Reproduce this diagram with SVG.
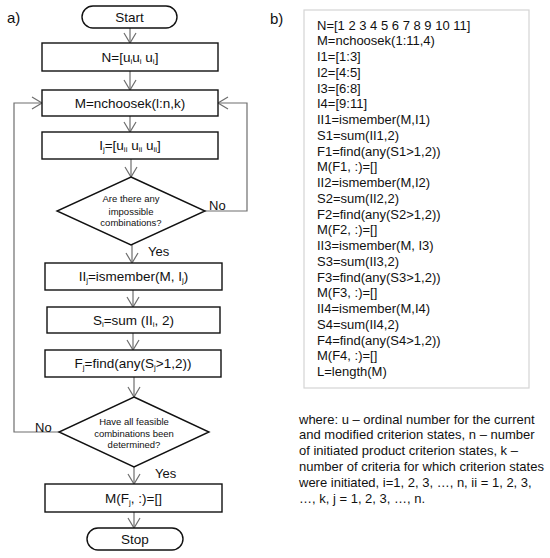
<svg xmlns="http://www.w3.org/2000/svg" width="550" height="558" viewBox="0 0 550 558">
<style>
text{font-family:"Liberation Sans",Arial,sans-serif;fill:#111}
.box{fill:#fff;stroke:#111;stroke-width:1.4}
.t{font-size:13.5px;text-anchor:middle}
.d{font-size:9.5px;text-anchor:middle}
.lbl{font-size:13px}
.code{font-size:13px}
.sub{font-size:8px}
.con{fill:none;stroke:#6e6e6e;stroke-width:1.2}
</style>
<defs>
<marker id="ah" markerUnits="userSpaceOnUse" markerWidth="14" markerHeight="14" viewBox="-12 -7 14 14" refX="0" refY="0" orient="auto">
<path d="M-10,-6 L0,0 L-10,6" fill="none" stroke="#6e6e6e" stroke-width="1.2"/>
</marker>
</defs>
<rect width="550" height="558" fill="#fff"/>
<text x="7" y="23" style="font-size:15px">a)</text>
<text x="270" y="24" style="font-size:15px">b)</text>

<g id="connectors">
<line class="con" x1="130" y1="28" x2="130" y2="43" marker-end="url(#ah)"/>
<line class="con" x1="130" y1="71" x2="130" y2="90" marker-end="url(#ah)"/>
<line class="con" x1="130" y1="116" x2="130" y2="132" marker-end="url(#ah)"/>
<line class="con" x1="131" y1="159" x2="131" y2="177" marker-end="url(#ah)"/>
<line class="con" x1="132" y1="245" x2="132" y2="263" marker-end="url(#ah)"/>
<line class="con" x1="133" y1="290" x2="133" y2="307" marker-end="url(#ah)"/>
<line class="con" x1="133" y1="333" x2="133" y2="350" marker-end="url(#ah)"/>
<line class="con" x1="134" y1="377" x2="134" y2="397" marker-end="url(#ah)"/>
<line class="con" x1="134" y1="467" x2="134" y2="484" marker-end="url(#ah)"/>
<line class="con" x1="134" y1="512" x2="134" y2="528" marker-end="url(#ah)"/>
<polyline class="con" points="205,211 247,211 247,103 218,103" marker-end="url(#ah)"/>
<polyline class="con" points="59,432 14,432 14,103 42,103" marker-end="url(#ah)"/>
<text class="lbl" x="209" y="210">No</text>
<text class="lbl" x="148" y="256">Yes</text>
<text class="lbl" x="35" y="432">No</text>
<text class="lbl" x="155" y="478">Yes</text>
</g>

<g id="start">
<rect class="box" x="82" y="6" width="95" height="22" rx="11"/>
<text class="t" x="129.5" y="21.5">Start</text>
</g>
<g id="n">
<rect class="box" x="42" y="43" width="176" height="28"/>
<text class="t" x="130" y="61.5">N=[u<tspan class="sub" dy="2">i</tspan><tspan dy="-2">u</tspan><tspan class="sub" dy="2">i</tspan><tspan dy="-2"> u</tspan><tspan class="sub" dy="2">i</tspan><tspan dy="-2">]</tspan></text>
</g>
<g id="m">
<rect class="box" x="42" y="90" width="176" height="26"/>
<text class="t" x="130" y="107.5">M=nchoosek(l:n,k)</text>
</g>
<g id="ij">
<rect class="box" x="42" y="132" width="176" height="27"/>
<text class="t" x="130" y="150">I<tspan class="sub" dy="2">j</tspan><tspan dy="-2">=[u</tspan><tspan class="sub" dy="2">ii</tspan><tspan dy="-2"> u</tspan><tspan class="sub" dy="2">ii</tspan><tspan dy="-2">  u</tspan><tspan class="sub" dy="2">ii</tspan><tspan dy="-2">]</tspan></text>
</g>
<g id="dec1">
<polygon class="box" points="131,177 205,211 131,245 57,211"/>
<text class="d" x="131" y="202">Are there any</text>
<text class="d" x="131" y="214.5">impossible</text>
<text class="d" x="131" y="226">combinations?</text>
</g>
<g id="iij">
<rect class="box" x="45" y="263" width="177" height="27"/>
<text class="t" x="133.5" y="281">II<tspan class="sub" dy="2">j</tspan><tspan dy="-2">=ismember(M, I</tspan><tspan class="sub" dy="2">j</tspan><tspan dy="-2">)</tspan></text>
</g>
<g id="sj">
<rect class="box" x="47" y="307" width="173" height="26"/>
<text class="t" x="133.5" y="324.5">S<tspan class="sub" dy="2">i</tspan><tspan dy="-2">=sum (II</tspan><tspan class="sub" dy="2">i</tspan><tspan dy="-2">, 2)</tspan></text>
</g>
<g id="fj">
<rect class="box" x="45" y="350" width="176" height="27"/>
<text class="t" x="133" y="368">F<tspan class="sub" dy="2">j</tspan><tspan dy="-2">=find(any(S</tspan><tspan class="sub" dy="2">j</tspan><tspan dy="-2">&gt;1,2))</tspan></text>
</g>
<g id="dec2">
<polygon class="box" points="134,397 209,432 134,467 59,432"/>
<text class="d" x="134" y="425">Have all feasible</text>
<text class="d" x="134" y="436.5">combinations been</text>
<text class="d" x="134" y="448">determined?</text>
</g>
<g id="mfj">
<rect class="box" x="45" y="484" width="177" height="28"/>
<text class="t" x="133.5" y="502.5">M(F<tspan class="sub" dy="2">j</tspan><tspan dy="-2">, :)=[]</tspan></text>
</g>
<g id="stop">
<rect class="box" x="87" y="528" width="96" height="22" rx="11"/>
<text class="t" x="135" y="543.5">Stop</text>
</g>

<g id="code">
<rect x="304" y="10" width="225" height="378" fill="#fff" stroke="#d4d4d4" stroke-width="1.2"/>
<text class="code" x="317" y="29.5">N=[1 2 3 4 5 6 7 8 9 10 11]</text>
<text class="code" x="317" y="45.25">M=nchoosek(1:11,4)</text>
<text class="code" x="317" y="61">I1=[1:3]</text>
<text class="code" x="317" y="76.75">I2=[4:5]</text>
<text class="code" x="317" y="92.5">I3=[6:8]</text>
<text class="code" x="317" y="108.25">I4=[9:11]</text>
<text class="code" x="317" y="124">II1=ismember(M,I1)</text>
<text class="code" x="317" y="139.75">S1=sum(II1,2)</text>
<text class="code" x="317" y="155.5">F1=find(any(S1&gt;1,2))</text>
<text class="code" x="317" y="171.25">M(F1, :)=[]</text>
<text class="code" x="317" y="187">II2=ismember(M,I2)</text>
<text class="code" x="317" y="202.75">S2=sum(II2,2)</text>
<text class="code" x="317" y="218.5">F2=find(any(S2&gt;1,2))</text>
<text class="code" x="317" y="234.25">M(F2, :)=[]</text>
<text class="code" x="317" y="250">II3=ismember(M, I3)</text>
<text class="code" x="317" y="265.75">S3=sum(II3,2)</text>
<text class="code" x="317" y="281.5">F3=find(any(S3&gt;1,2))</text>
<text class="code" x="317" y="297.25">M(F3, :)=[]</text>
<text class="code" x="317" y="313">II4=ismember(M,I4)</text>
<text class="code" x="317" y="328.75">S4=sum(II4,2)</text>
<text class="code" x="317" y="344.5">F4=find(any(S4&gt;1,2))</text>
<text class="code" x="317" y="360.25">M(F4, :)=[]</text>
<text class="code" x="317" y="376">L=length(M)</text>
</g>

<g id="legend">
<text class="code" x="299" y="423.5">where: u – ordinal number for the current</text>
<text class="code" x="299" y="439.3">and modified criterion states, n – number</text>
<text class="code" x="299" y="455.1">of initiated product criterion states, k –</text>
<text class="code" x="299" y="470.9">number of criteria for which criterion states</text>
<text class="code" x="299" y="486.7">were initiated, i=1, 2, 3, …, n, ii = 1, 2, 3,</text>
<text class="code" x="299" y="502.5">…, k, j = 1, 2, 3, …, n.</text>
</g>
</svg>
